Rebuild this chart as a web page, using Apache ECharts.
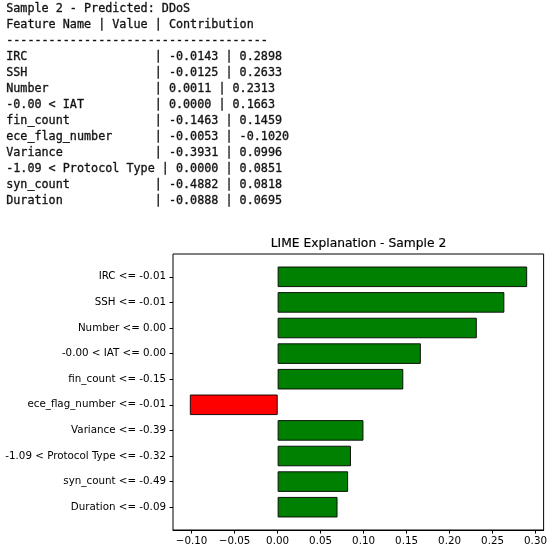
<!DOCTYPE html>
<html>
<head>
<meta charset="utf-8">
<script src="https://cdn.jsdelivr.net/npm/echarts@6/dist/echarts.min.js"></script>
<style>
html,body{margin:0;padding:0;background:#fff;}
#chart{width:550px;height:549px;}
</style>
</head>
<body>
<div id="chart"></div>
<script>
// ---- data ----
const sampleTitle = "Sample 2 - Predicted: DDoS";
const tableHeader = "Feature Name | Value | Contribution";
const tableFeatures = ["IRC", "SSH", "Number", "-0.00 < IAT", "fin_count", "ece_flag_number", "Variance", "-1.09 < Protocol Type", "syn_count", "Duration"];
const tableValues = [-0.0143, -0.0125, 0.0011, 0.0000, -0.1463, -0.0053, -0.3931, 0.0000, -0.4882, -0.0888];
const contributions = [0.2898, 0.2633, 0.2313, 0.1663, 0.1459, -0.1020, 0.0996, 0.0851, 0.0818, 0.0695];
const barLabels = ["IRC <= -0.01", "SSH <= -0.01", "Number <= 0.00", "-0.00 < IAT <= 0.00", "fin_count <= -0.15", "ece_flag_number <= -0.01", "Variance <= -0.39", "-1.09 < Protocol Type <= -0.32", "syn_count <= -0.49", "Duration <= -0.09"];
const xTicks = [-0.10, -0.05, 0.00, 0.05, 0.10, 0.15, 0.20, 0.25, 0.30];
const chartTitle = "LIME Explanation - Sample 2";

// ---- build text lines ----
function pad(s, n){ while (s.length < n) s += " "; return s; }
const lines = [sampleTitle, tableHeader, "-".repeat(37)];
for (let i = 0; i < tableFeatures.length; i++) {
  lines.push(pad(tableFeatures[i], 20) + " | " + tableValues[i].toFixed(4) + " | " + contributions[i].toFixed(4));
}
const graphics = lines.map((t, i) => ({
  type: 'text', left: 6, top: 3 + 16 * i, silent: true,
  style: { text: t, fontFamily: 'DejaVu Sans Mono', fontSize: 11.75, fill: '#111', stroke: '#333', lineWidth: 0.35 }
}));
graphics.push({
  type: 'text', x: 358.5, y: 243.5, silent: true,
  style: { text: chartTitle, fontFamily: 'DejaVu Sans', fontSize: 12.3, fill: '#000', stroke: '#222', lineWidth: 0.2, align: 'center', verticalAlign: 'middle' }
});

const xMin = -0.1216, xMax = 0.3094;
const fmt = v => v.toFixed(2).replace('-', '\u2212');

const chart = echarts.init(document.getElementById('chart'), null, {renderer: 'canvas'});
chart.setOption({
  backgroundColor: '#fff',
  animation: false,
  textStyle: { fontFamily: 'DejaVu Sans' },
  graphic: graphics,
  grid: [
    { left: 173, top: 254, width: 371, height: 276, show: true, borderColor: '#000', borderWidth: 1, backgroundColor: 'transparent' },
    { left: 173, top: 264, width: 371, height: 256 }
  ],
  xAxis: [
    { gridIndex: 0, type: 'value', min: xMin, max: xMax,
      axisLine: { show: true, onZero: false, lineStyle: { color: '#000', width: 1 } },
      axisTick: { show: true, length: 3.5, lineStyle: { color: '#000', width: 1 }, customValues: xTicks },
      axisLabel: { fontSize: 10.3, color: '#000', margin: 6, customValues: xTicks, formatter: fmt },
      splitLine: { show: false } },
    { gridIndex: 1, type: 'value', min: xMin, max: xMax, show: false, splitLine: { show: false } }
  ],
  yAxis: [
    { gridIndex: 0, type: 'value', show: false, splitLine: { show: false } },
    { gridIndex: 1, type: 'category', inverse: true, data: barLabels,
      axisLine: { show: false, onZero: false },
      axisTick: { show: true, alignWithLabel: true, length: 3.5, lineStyle: { color: '#000', width: 1 } },
      axisLabel: { fontSize: 10.3, color: '#000', margin: 7 },
      splitLine: { show: false } }
  ],
  series: [{
    type: 'bar', xAxisIndex: 1, yAxisIndex: 1, barWidth: '80%',
    data: contributions.map(v => ({ value: v, itemStyle: { color: v >= 0 ? '#008000' : '#ff0000' } })),
    itemStyle: { borderColor: '#000', borderWidth: 0.9 }
  }]
});
</script>
</body>
</html>
